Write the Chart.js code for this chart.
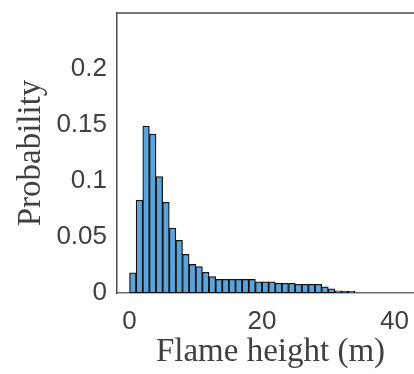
<!DOCTYPE html>
<html>
<head>
<meta charset="utf-8">
<script src="https://cdn.jsdelivr.net/npm/chart.js@4.4.1/dist/chart.umd.min.js"></script>
<style>
  html, body { margin: 0; padding: 0; background: #fff; }
  #wrap { width: 414px; height: 374px; overflow: hidden; }
</style>
</head>
<body>
<div id="wrap"><canvas id="hist" width="424" height="374"></canvas></div>
<script>
// histogram bins: left edge of each 1 m bin, and probability per bin
const binStarts = [0, 1, 2, 3, 4, 5, 6, 7, 8, 9, 10, 11, 12, 13, 14, 15, 16, 17, 18, 19, 20, 21, 22, 23, 24, 25, 26, 27, 28, 29, 30, 31, 32, 33];
const probability = [0.018, 0.083, 0.149, 0.142, 0.104, 0.081, 0.058, 0.047, 0.0345, 0.0256, 0.0235, 0.0185, 0.0146,
    0.0122, 0.0122, 0.0122, 0.0122, 0.0122, 0.0122, 0.0100, 0.0100, 0.0100, 0.0087, 0.0087, 0.0087,
    0.0078, 0.0078, 0.0078, 0.0078, 0.0056, 0.0038, 0.0020, 0.0018, 0.0015];
const xTicks = [0, 20, 40];
const yTicks = [0, 0.05, 0.1, 0.15, 0.2];

const axisGray = '#4d4d4d';
const textGray = '#404040';

const topBorder = {
    id: 'topBorder',
    afterDraw(chart) {
        const { ctx, chartArea } = chart;
        ctx.save();
        ctx.strokeStyle = axisGray;
        ctx.lineWidth = 1.5;
        ctx.beginPath();
        ctx.moveTo(chartArea.left, chartArea.top);
        ctx.lineTo(chartArea.right, chartArea.top);
        ctx.stroke();
        ctx.restore();
    }
};

new Chart(document.getElementById('hist'), {
    type: 'bar',
    data: {
        datasets: [{
            data: binStarts.map((b, i) => ({ x: b + 0.5, y: probability[i] })),
            backgroundColor: '#5ba3d9',
            borderColor: '#111',
            borderWidth: 1.25,
            borderSkipped: false,
            barPercentage: 1,
            categoryPercentage: 1
        }]
    },
    options: {
        responsive: false,
        animation: false,
        devicePixelRatio: 1,
        layout: { padding: { top: 13, left: 0, right: 0, bottom: 0 } },
        plugins: { legend: { display: false }, tooltip: { enabled: false } },
        scales: {
            x: {
                type: 'linear',
                offset: false,
                min: -1.89,
                max: 44.45,
                afterBuildTicks: s => { s.ticks = xTicks.map(v => ({ value: v })); },
                afterFit: s => { s.height = 81; s.paddingLeft = 0; s.paddingRight = 0; },
                grid: { display: false, drawTicks: false, offset: false },
                border: { display: true, color: '#6e6e6e', width: 1.5 },
                ticks: { color: textGray, padding: 13, maxRotation: 0, font: { family: 'Liberation Sans', size: 26 } },
                title: {
                    display: true, text: 'Flame height (m)', color: textGray,
                    font: { family: 'Liberation Serif', size: 33 }, padding: { top: 0, bottom: 2 }
                }
            },
            y: {
                min: 0,
                max: 0.25,
                afterBuildTicks: s => { s.ticks = yTicks.map(v => ({ value: v })); },
                afterFit: s => { s.width = 117; s.paddingTop = 0; s.paddingBottom = 0; },
                grid: { display: false, drawTicks: false },
                border: { display: true, color: axisGray, width: 1.5 },
                ticks: {
                    color: textGray, padding: 10,
                    font: { family: 'Liberation Sans', size: 26 },
                    callback: v => String(+v.toFixed(2))
                },
                title: {
                    display: true, text: 'Probability', color: textGray,
                    font: { family: 'Liberation Serif', size: 33 }, padding: { top: 12, bottom: 0 }
                }
            }
        }
    },
    plugins: [topBorder]
});
</script>
</body>
</html>
